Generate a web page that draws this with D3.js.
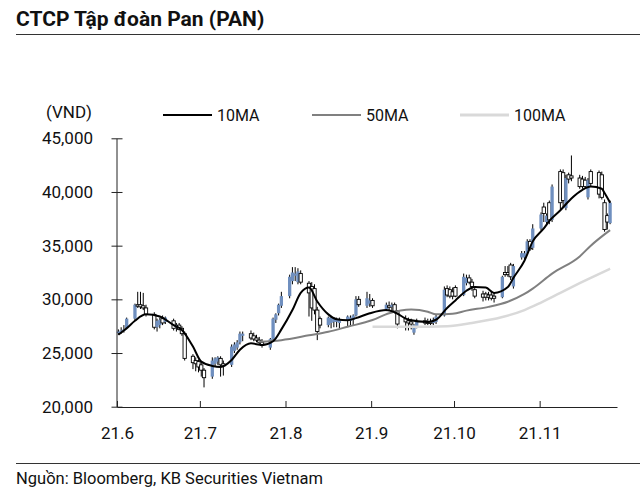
<!DOCTYPE html>
<html><head><meta charset="utf-8">
<script src="https://cdn.jsdelivr.net/npm/d3@7"></script>
<style>body{margin:0;background:#fff}svg{display:block}</style>
</head><body>
<svg id="c" width="640" height="498"></svg>
<script>
// ---- trading days per month (2021) ----
const junDays=[1,2,3,4,7,8,9,10,11,14,15,16,17,18,21,22,23,24,25,28,29,30];
const julDays=[1,2,5,6,7,8,9,12,13,14,15,16,19,20,21,22,23,26,27,28,29,30];
const augDays=[2,3,4,5,6,9,10,11,12,13,16,17,18,19,20,23,24,25,26,27,30,31];
const sepDays=[1,6,7,8,9,10,13,14,15,16,17,20,21,22,23,24,27,28,29,30];
const octDays=[1,4,5,6,7,8,11,12,13,14,15,18,19,20,21,22,25,26,27,28,29];
const novDays=[1,2,3,4,5,8,9,10,11,12,15,16,17,18,19,22,23,24,25,26];

// ---- OHLC (VND) ----
const openP=[
 26900,27000,27100,27300,28200,29500,29500,29400,29200,28600,27400,27600,28200,27900,28000,27400,27600,27300,26800,24700,24300,24200,
 23900,23400,22800,24000,24200,24500,24000,23900,25200,25500,26000,26600,26800,26600,26400,26200,26000,25500,26300,28100,28700,29400,
 30300,31700,32200,31600,32400,31500,31200,31000,29000,28200,27600,27800,27900,27900,27800,28000,28000,28100,28500,30000,29400,29600,
 29900,29100,29400,29300,29500,28900,28200,28000,27900,26900,27500,28000,27900,27900,27800,27900,28500,31000,30900,30700,
 31100,30400,31500,32000,31600,30900,30500,30500,30400,30400,30300,30200,32500,32500,33200,31200,33900,33900,34300,35400,34800,
 36600,38600,37200,39000,37400,41900,41800,38500,41600,41500,41300,41200,41100,39500,41900,41800,41600,39000,37800,37100];
const highP=[
 27200,27400,27600,28300,29600,30700,30700,30600,29500,28800,28200,28300,28500,28400,28200,27800,27800,27500,27000,24900,24600,24400,
 24200,23600,24600,24600,24700,24700,24300,25800,26000,26200,27000,27000,27100,26900,26700,26500,26300,26400,28300,28700,29600,30700,
 32300,33000,33000,32900,32700,31700,31600,31400,29300,28400,28400,28400,28300,28300,28300,28500,28500,28600,30300,30300,30700,30500,
 30100,29700,29800,29700,29700,29000,28500,28300,28200,27700,28200,28300,28200,28200,28300,28600,31200,31300,31200,31100,
 31300,32400,32300,32300,31900,31100,30800,30700,30700,30700,30600,32200,33100,33100,33400,33300,34500,34500,35600,35600,37000,
 38100,39000,38000,39200,40700,42100,42100,41600,41800,43400,41600,41500,41400,41300,42100,42000,41900,39300,38000,39200];
const lowP=[
 26700,26800,26900,27200,28000,29200,29100,29000,28400,27200,27000,27300,27600,27700,27100,27000,27100,26600,24300,23500,23300,23200,
 22800,21800,22600,23700,23900,22800,22900,23700,25000,25300,25800,26100,26200,26100,26000,25800,25500,25300,26100,27800,28500,29200,
 30100,31400,31700,31400,31400,28400,28000,28600,26200,27300,27400,27300,27400,27400,27300,27500,27500,27600,28400,29300,29200,29300,
 29200,28900,29000,28900,28700,27300,27100,27100,27200,26700,27300,27600,27600,27600,27600,27700,28400,30200,30100,30000,
 30200,30300,31300,31400,30800,30100,29800,29900,29900,29900,29700,30100,32100,32100,31800,31000,33700,33700,34200,34500,34600,
 36400,37200,36900,37000,37200,38400,38500,38300,40800,41000,40300,40300,40300,39300,40500,39400,39300,36300,36500,37000];
const closeP=[
 27000,27100,27200,28200,29500,29400,29300,29200,28600,27400,28000,28100,27800,28300,27300,27600,27200,26800,24500,24100,24000,23700,
 23400,22700,24300,24500,24600,23900,23800,25600,25800,26000,26800,26800,26400,26300,26200,26000,25700,26300,28200,28600,29500,30300,
 32100,32500,32400,32600,31600,30600,29200,29000,27000,27600,28300,28300,28200,28200,28100,28400,28300,28500,30000,29500,30100,29900,
 29400,29500,29300,29500,28900,27700,27900,27800,27700,27600,28000,27800,27800,27800,28100,28400,30900,30400,30300,30300,
 30300,32100,32000,31600,31200,30300,30200,30200,30200,30100,30100,32100,32300,32300,32100,33100,34300,34300,35400,34700,36600,
 37900,38000,37800,37400,40500,39000,39200,41300,41200,41300,40500,40500,40500,41100,40800,39800,39500,36500,37200,39000];

// ---- moving averages ----
const ma10Dates=["06-01","06-04","06-07","06-11","06-16","06-21","06-24","06-28","07-01","07-05","07-08","07-12","07-15","07-19","07-23","07-27","07-30",
 "08-03","08-06","08-09","08-12","08-16","08-19","08-23","08-26","08-31","09-06","09-09","09-14","09-21","09-24","09-28","10-01","10-05","10-08",
 "10-12","10-15","10-20","10-22","10-26","10-29","11-02","11-04","11-08","11-12","11-16","11-19","11-23","11-24","11-26"];
const ma10Vals=[26700,27300,28000,28600,28400,27600,27150,25600,24200,23800,23700,24350,25300,25900,25750,26100,27200,
 29000,30600,31100,29800,28600,28150,28050,28250,28700,29000,28800,28100,27900,28100,29200,29900,30800,31150,
 31100,30600,31150,32000,33600,35400,36600,37300,38300,39400,40200,40500,40300,39900,39000];
const ma50Dates=["07-22","07-30","08-09","08-16","08-23","09-01","09-07","09-15","09-21","09-24","09-30","10-05","10-13","10-20","10-26","10-29","11-05","11-15","11-19","11-26"];
const ma50Vals=[26050,26200,26650,26990,27450,28070,28700,29050,28850,28600,28650,28950,29300,29780,30500,31000,32400,34000,35000,36450];
const ma100Dates=["09-01","09-15","09-28","10-07","10-18","10-26","11-01","11-08","11-15","11-19","11-26"];
const ma100Vals=[27450,27450,27500,27800,28350,29000,29700,30600,31500,32000,32850];

// ---- axes text ----
const yTicks=[20000,25000,30000,35000,40000,45000];
const xTickDates=["06-01","07-01","08-01","09-01","10-01","11-01"];
const xTickLabels=["21.6","21.7","21.8","21.9","21.10","21.11"];
const legendLabels=["10MA","50MA","100MA"];
const titleText="CTCP Tập đoàn Pan (PAN)";
const sourceText="Nguồn: Bloomberg, KB Securities Vietnam";
const unitText="(VND)";

// ---- build ----
const md=s=>{const [m,d]=s.split("-").map(Number);return new Date(Date.UTC(2021,m-1,d));};
const monthDays=[junDays,julDays,augDays,sepDays,octDays,novDays];
const dates=[];
monthDays.forEach((days,i)=>days.forEach(d=>dates.push(new Date(Date.UTC(2021,5+i,d)))));
const data=dates.map((d,i)=>({date:d,o:openP[i],h:highP[i],l:lowP[i],c:closeP[i]}));

const font="Roboto, 'Noto Sans', sans-serif";
const svg=d3.select("#c").style("font-family",font);
const x=d3.scaleUtc().domain([md("06-01"),md("11-29")]).range([117,617]);
const slot=x(md("06-02"))-x(md("06-01"));
const cx=d=>x(d)+slot/2;
const y=d3.scaleLinear().domain([20000,45000]).range([406.7,138.3]);

// title
svg.append("text").attr("x",16).attr("y",26).attr("font-size",21).attr("font-weight",700)
  .attr("fill","#111").text(titleText);
svg.append("line").attr("x1",16).attr("x2",640).attr("y1",34.5).attr("y2",34.5).attr("stroke","#333").attr("stroke-width",1);

// source
svg.append("line").attr("x1",16).attr("x2",640).attr("y1",463.5).attr("y2",463.5).attr("stroke","#333").attr("stroke-width",1);
svg.append("text").attr("x",16).attr("y",484).attr("font-size",16.5).attr("fill","#111").text(sourceText);

// unit
svg.append("text").attr("x",69).attr("y",118).attr("text-anchor","middle").attr("font-size",17).attr("fill","#111").text(unitText);

// legend
const legColors=["#000","#808080","#d9d9d9"];
const legWidths=[2,2,3];
const legX=[163,312,460];
legendLabels.forEach((t,i)=>{
  svg.append("line").attr("x1",legX[i]).attr("x2",legX[i]+49).attr("y1",115).attr("y2",115)
    .attr("stroke",legColors[i]).attr("stroke-width",legWidths[i]);
  svg.append("text").attr("x",legX[i]+54).attr("y",121).attr("font-size",16).attr("fill","#111").text(t);
});

// candles
const cg=svg.append("g");
const bw=3.3;
cg.selectAll("line.w").data(data).join("line").attr("class","w")
  .attr("x1",d=>cx(d.date)).attr("x2",d=>cx(d.date))
  .attr("y1",d=>y(d.h)).attr("y2",d=>y(d.l)).attr("stroke","#000").attr("stroke-width",1);
cg.selectAll("rect").data(data).join("rect")
  .attr("x",d=>cx(d.date)-bw/2).attr("width",bw)
  .attr("y",d=>y(Math.max(d.o,d.c))).attr("height",d=>Math.max(1.5,Math.abs(y(d.o)-y(d.c))))
  .attr("fill",d=>d.c>=d.o?"#6f8fbf":"#fff")
  .attr("stroke",d=>d.c>=d.o?"none":"#000").attr("stroke-width",0.9);

// MA lines
const lineGen=d3.line().x(p=>cx(p[0])).y(p=>y(p[1])).curve(d3.curveMonotoneX);
const maSets=[[ma100Dates,ma100Vals,"#d9d9d9",2.5],[ma50Dates,ma50Vals,"#808080",2],[ma10Dates,ma10Vals,"#000",2]];
maSets.forEach(([ds,vs,col,w])=>{
  svg.append("path").datum(ds.map((d,i)=>[md(d),vs[i]])).attr("d",lineGen)
    .attr("fill","none").attr("stroke",col).attr("stroke-width",w).attr("stroke-linejoin","round");
});

// y axis
const ya=svg.append("g").attr("transform","translate(116.5,0)")
  .call(d3.axisLeft(y).tickValues(yTicks).tickFormat(d3.format(",")).tickSizeInner(5).tickSizeOuter(0).tickPadding(18.5));
ya.selectAll(".tick line").attr("x1",-5).attr("x2",6);
ya.selectAll("text").attr("font-size",17).attr("font-family",font).attr("fill","#111");
ya.selectAll("path,line").attr("stroke","#222");

// x axis
const xa=svg.append("g").attr("transform","translate(0,407)")
  .call(d3.axisBottom(x).tickValues(xTickDates.map(md)).tickFormat((d,i)=>xTickLabels[i]).tickSizeInner(-6).tickSizeOuter(0).tickPadding(20));
xa.selectAll("text").attr("font-size",17).attr("font-family",font).attr("fill","#111");
xa.selectAll("path,line").attr("stroke","#222");
</script>
</body></html>
